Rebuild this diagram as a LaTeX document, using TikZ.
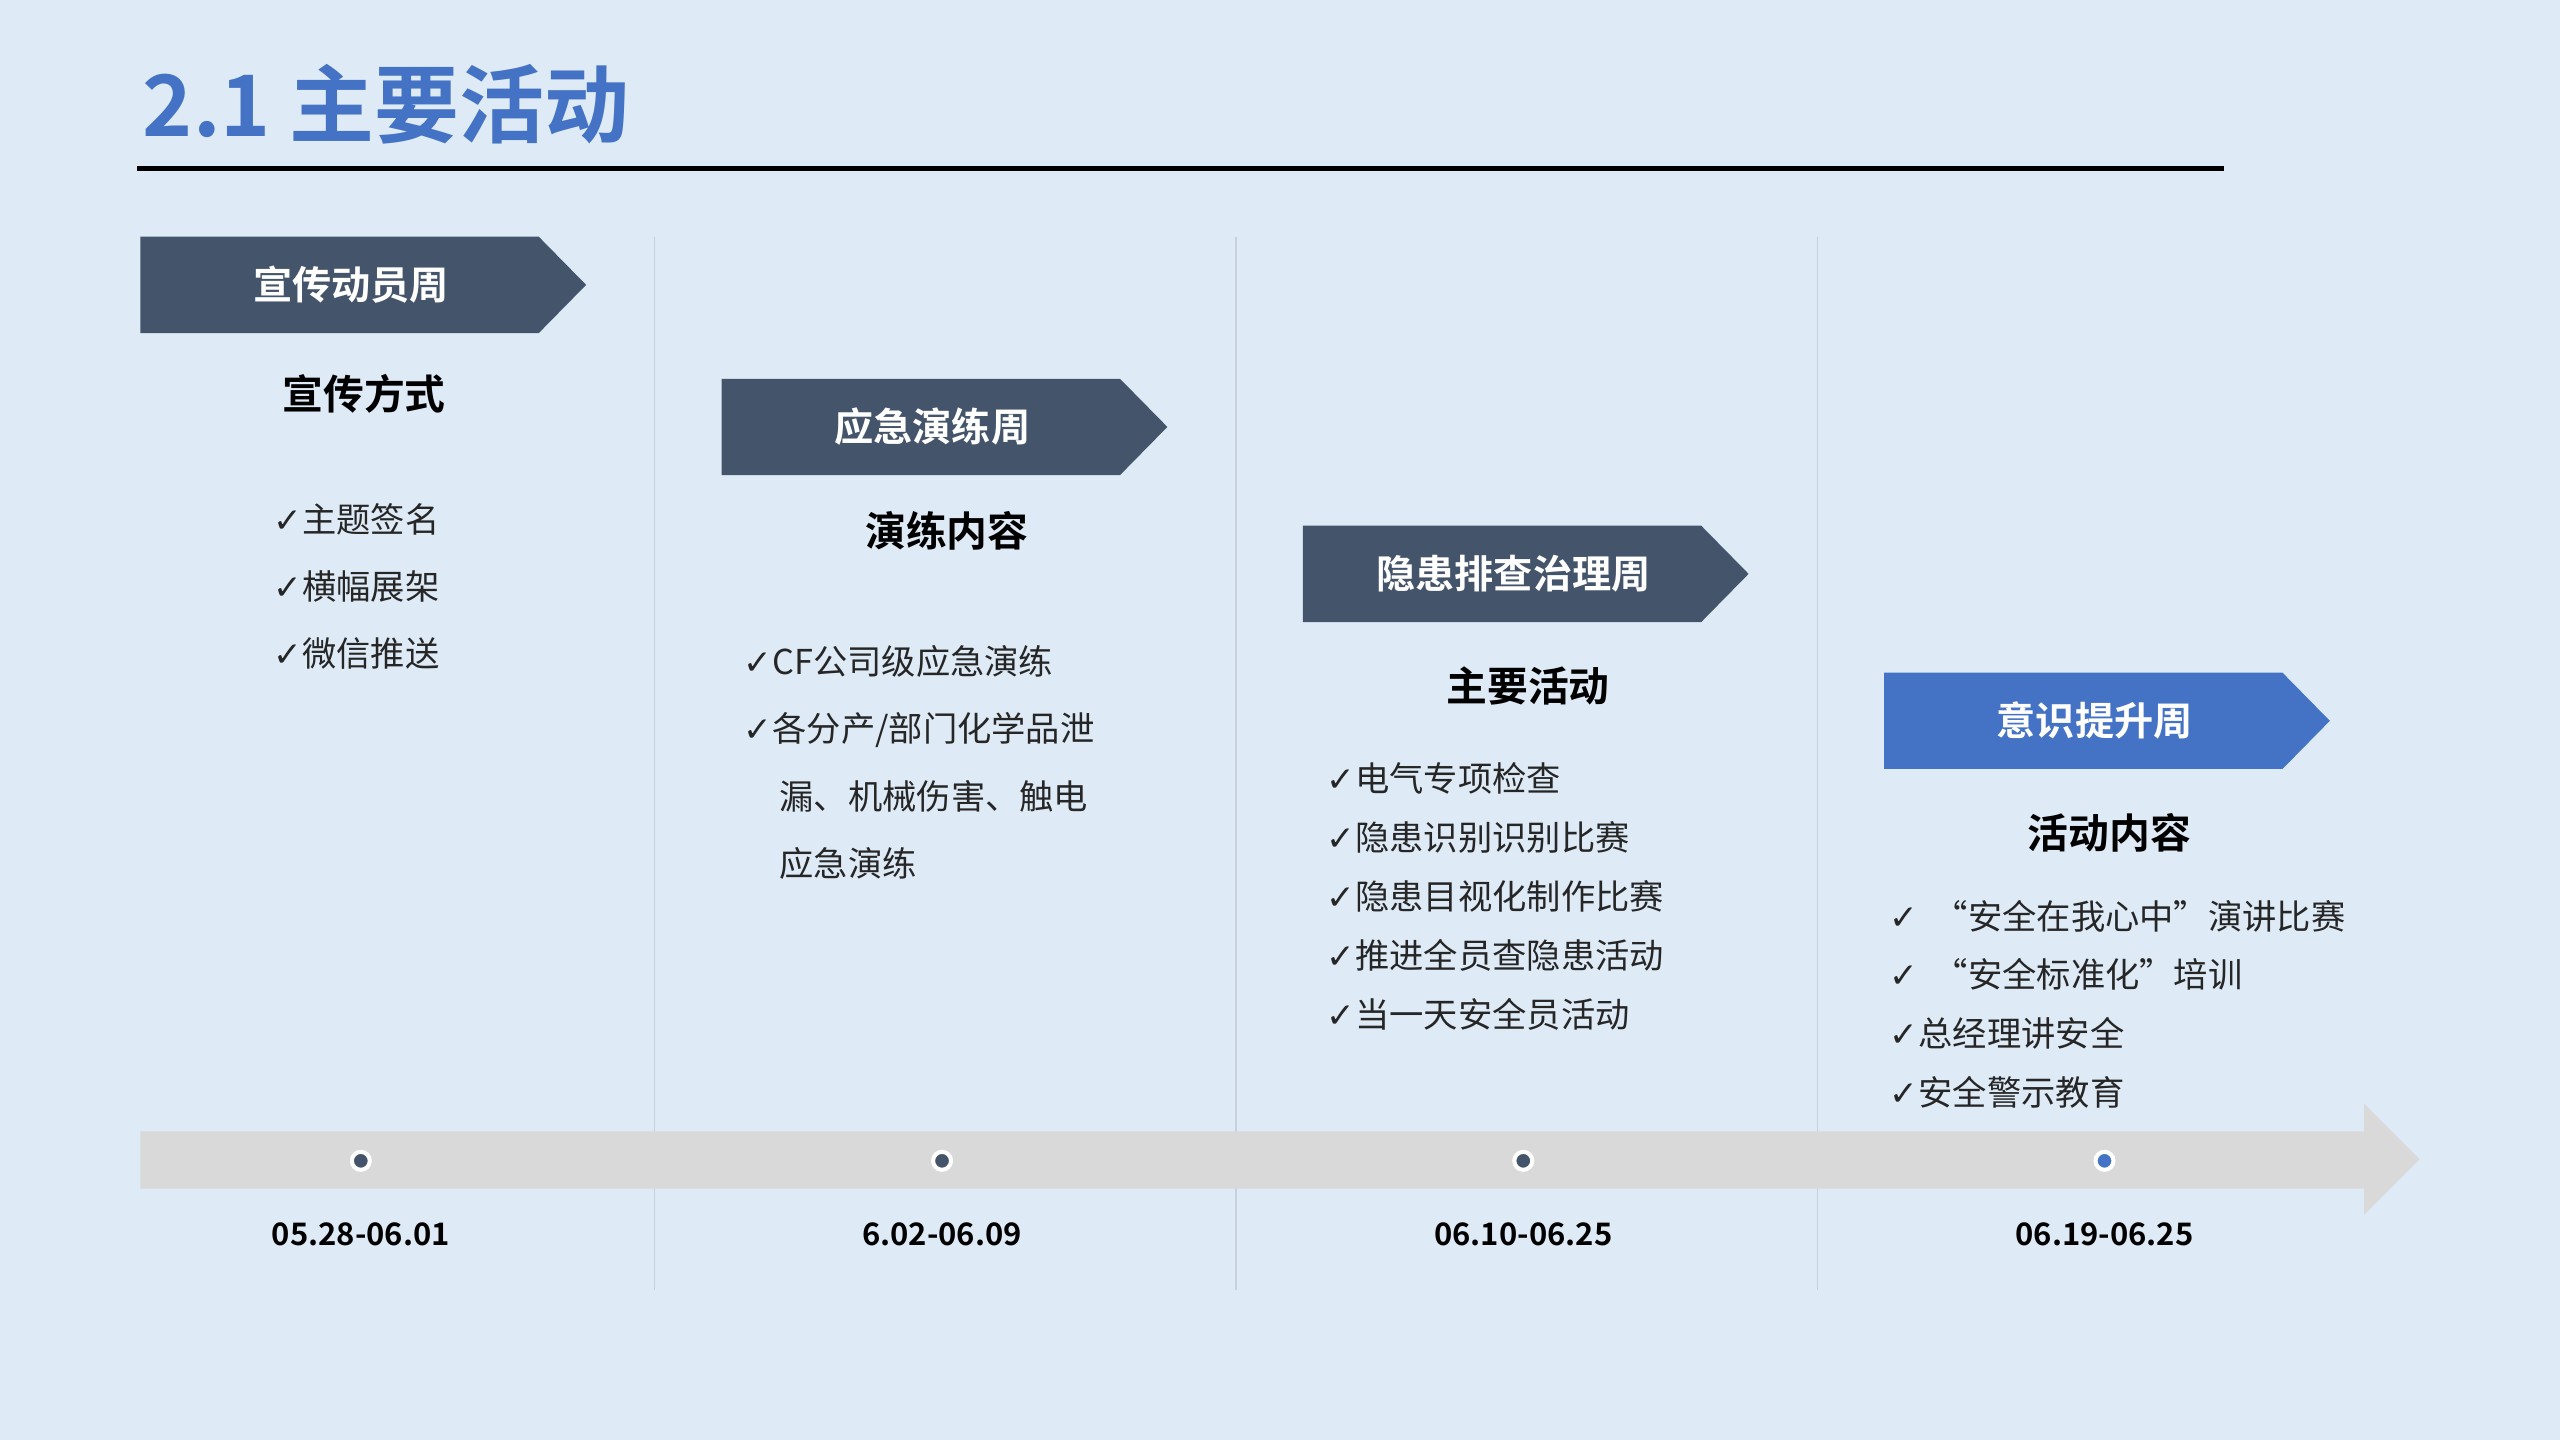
\documentclass[tikz,border=0pt]{standalone}
\usepackage{fontspec}
\setmainfont{Noto Sans CJK SC}[BoldFont={Noto Sans CJK SC Bold}]
\newfontfamily\symf{DejaVu Sans}
\definecolor{bg}{RGB}{222,235,247}
\definecolor{tblue}{RGB}{68,114,196}
\definecolor{slate}{RGB}{68,84,106}
\definecolor{vline}{RGB}{200,208,218}
\definecolor{bar}{RGB}{217,217,217}
\newcommand{\ck}{{\symf\char"2713}}
\begin{document}
\begin{tikzpicture}[x=1pt,y=-1pt,
  banner/.style={fill=slate},
  btxt/.style={text=white,font=\bfseries\fontsize{24}{28}\selectfont},
  head/.style={font=\bfseries\fontsize{25}{30}\selectfont,text=black},
  item/.style={anchor=west,font=\fontsize{21}{25}\selectfont,text=black!85},
  date/.style={font=\bfseries\fontsize{19}{23}\selectfont},
  dot/.style={circle,draw=white,line width=2.5pt,fill=slate,minimum size=11pt,inner sep=0}]
\fill[bg] (0,0) rectangle (1568,882);
\useasboundingbox (0,0) rectangle (1568,882);
\node[anchor=west,text=tblue,font=\bfseries\fontsize{52}{60}\selectfont] (title) at (84,64) {2.1 主要活动};
\draw[line width=3pt] (84,103) -- (1362,103);
\foreach \x in {401,757,1113}{\draw[vline,line width=0.8pt] (\x,145) -- (\x,790);}
\fill[bar] (86,693) -- (1448,693) -- (1448,676) -- (1482,710) -- (1448,744) -- (1448,728) -- (86,728) -- cycle;
\foreach \x/\n/\d in {221/d1/05.28-06.01,577/d2/6.02-06.09,933/d3/06.10-06.25,1289/d4/06.19-06.25}{
  \node[date] (\n) at (\x,756) {\d};}
\node[dot] (p1) at (221,711) {};
\node[dot] (p2) at (577,711) {};
\node[dot] (p3) at (933,711) {};
\node[dot,fill=tblue] (p4) at (1289,711) {};
% banners
\foreach \x/\y/\c/\t/\n in {86/145/slate/宣传动员周/b1,442/232/slate/应急演练周/b2,798/322/slate/隐患排查治理周/b3,1154/412/tblue/意识提升周/b4}{
  \fill[\c] (\x,\y) -- (\x+244,\y) -- (\x+273,\y+29.5) -- (\x+244,\y+59) -- (\x,\y+59) -- cycle;
  \node[btxt] (\n) at (\x+129,\y+29.5) {\t};}
\node[head] (h1) at (223,241) {宣传方式};
\node[head] (h2) at (580,325) {演练内容};
\node[head] (h3) at (936,420) {主要活动};
\node[head] (h4) at (1292,510) {活动内容};
\node[item] (a1) at (164,318) {\ck 主题签名};
\node[item] (a2) at (164,359) {\ck 横幅展架};
\node[item] (a3) at (164,400) {\ck 微信推送};
\node[item] (b1i) at (452,405) {\ck CF公司级应急演练};
\node[item] (b2i) at (452,447) {\ck 各分产/部门化学品泄};
\node[item] (b3i) at (474,488) {漏、机械伤害、触电};
\node[item] (b4i) at (474,529) {应急演练};
\node[item] (c1) at (809,477) {\ck 电气专项检查};
\node[item] (c2) at (809,513) {\ck 隐患识别识别比赛};
\node[item] (c3) at (809,549) {\ck 隐患目视化制作比赛};
\node[item] (c4) at (809,585) {\ck 推进全员查隐患活动};
\node[item] (c5) at (809,621) {\ck 当一天安全员活动};
\node[item] (e1) at (1154,561) {\ck\ \ “安全在我心中”演讲比赛};
\node[item] (e2) at (1154,597) {\ck\ \ “安全标准化”培训};
\node[item] (e3) at (1154,633) {\ck 总经理讲安全};
\node[item] (e4) at (1154,669) {\ck 安全警示教育};
\end{tikzpicture}
\end{document}
